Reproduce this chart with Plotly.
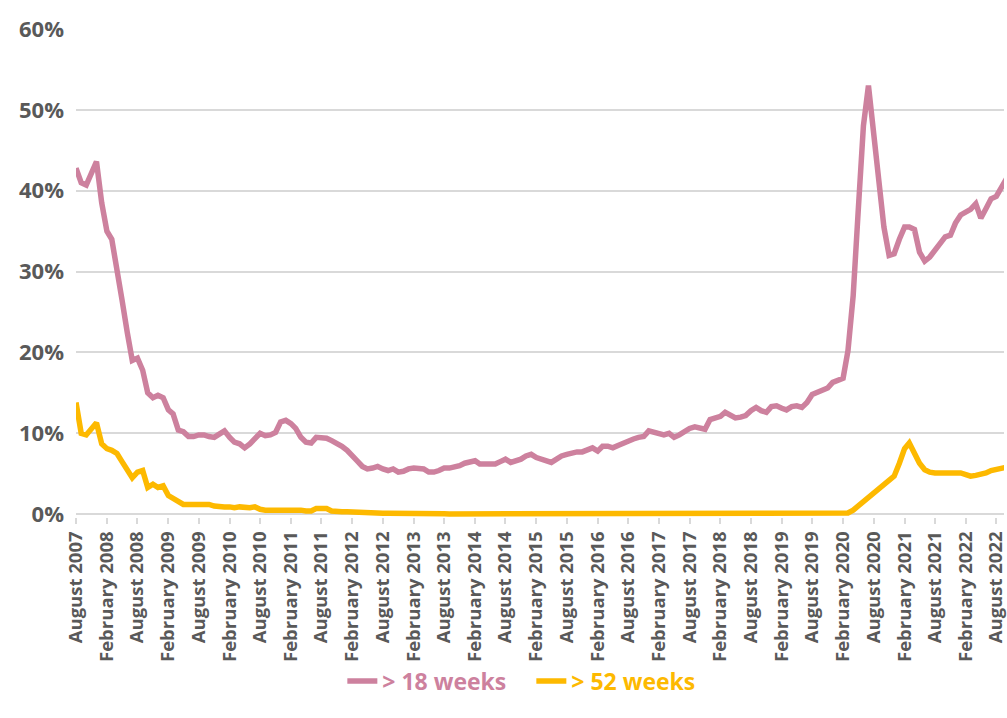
import pandas as pd
import plotly.graph_objects as go

# Share of patients on the waiting list, monthly from August 2007
over_18_weeks = [
    42.8, 41.0, 40.7, 42.0, 43.6, 38.5, 35.0, 34.0, 30.5, 26.5,
    22.5, 19.0, 19.3, 17.8, 15.0, 14.4, 14.7, 14.4, 12.9, 12.4,
    10.4, 10.2, 9.6, 9.6, 9.8, 9.8, 9.6, 9.5, 9.9, 10.3,
    9.5, 8.9, 8.7, 8.2, 8.7, 9.3, 10.0, 9.7, 9.8, 10.1,
    11.4, 11.6, 11.2, 10.6, 9.5, 8.9, 8.8, 9.5, 9.4, 9.4,
    9.1, 8.8, 8.4, 7.9, 7.3, 6.6, 5.9, 5.6, 5.7, 5.9,
    5.6, 5.4, 5.6, 5.2, 5.3, 5.6, 5.7, 5.7, 5.6, 5.2,
    5.2, 5.4, 5.7, 5.7, 5.8, 6.0, 6.3, 6.5, 6.6, 6.2,
    6.2, 6.2, 6.2, 6.5, 6.8, 6.4, 6.6, 6.8, 7.2, 7.4,
    7.0, 6.8, 6.6, 6.4, 6.8, 7.2, 7.4, 7.6, 7.7, 7.7,
    8.0, 8.2, 7.8, 8.4, 8.4, 8.2, 8.5, 8.8, 9.0, 9.3,
    9.5, 9.6, 10.3, 10.1, 10.0, 9.8, 10.0, 9.5, 9.8, 10.2,
    10.6, 10.8, 10.6, 10.5, 11.7, 11.9, 12.1, 12.6, 12.3, 11.9,
    12.0, 12.2, 12.8, 13.2, 12.8, 12.6, 13.3, 13.4, 13.1, 12.9,
    13.3, 13.4, 13.2, 13.8, 14.8, 15.1, 15.3, 15.6, 16.3, 16.5,
    16.8, 20.2, 27.0, 37.5, 48.0, 53.0, 47.5, 41.0, 35.5, 32.0,
    32.2, 34.0, 35.5, 35.5, 35.2, 32.4, 31.3, 31.8, 32.6, 33.6,
    34.3, 34.5, 36.0, 37.0, 37.4, 37.7, 38.4, 36.6, 37.8, 39.0,
    39.3, 40.6, 41.5,
]

over_52_weeks = [
    13.8, 10.0, 9.8, 10.5, 11.3, 8.7, 8.1, 7.9, 7.5, 6.5,
    5.4, 4.5, 5.2, 5.4, 3.3, 3.7, 3.3, 3.5, 2.3, 2.0,
    1.5, 1.2, 1.2, 1.2, 1.2, 1.2, 1.2, 1.0, 0.9, 0.9,
    0.9, 0.8, 0.9, 0.8, 0.8, 0.9, 0.6, 0.5, 0.5, 0.6,
    0.6, 0.6, 0.6, 0.5, 0.5, 0.4, 0.4, 0.7, 0.7, 0.7,
    0.4, 0.3, 0.3, 0.3, 0.25, 0.2, 0.2, 0.15, 0.15, 0.12,
    0.1, 0.1, 0.08, 0.07, 0.06, 0.05, 0.05, 0.05, 0.04, 0.04,
    0.04, 0.04, 0.04, 0.03, 0.03, 0.03, 0.03, 0.03, 0.03, 0.03,
    0.03, 0.03, 0.03, 0.03, 0.03, 0.03, 0.03, 0.03, 0.04, 0.04,
    0.04, 0.04, 0.04, 0.04, 0.04, 0.04, 0.04, 0.04, 0.04, 0.04,
    0.04, 0.04, 0.04, 0.04, 0.04, 0.04, 0.04, 0.05, 0.05, 0.05,
    0.05, 0.05, 0.05, 0.05, 0.06, 0.06, 0.07, 0.08, 0.08, 0.09,
    0.1, 0.1, 0.1, 0.1, 0.1, 0.1, 0.1, 0.1, 0.1, 0.1,
    0.1, 0.1, 0.09, 0.08, 0.08, 0.07, 0.06, 0.06, 0.05, 0.05,
    0.05, 0.05, 0.05, 0.05, 0.05, 0.05, 0.05, 0.05, 0.05, 0.05,
    0.06, 0.15, 0.5, 1.0, 1.5, 2.2, 2.7, 3.2, 3.7, 4.1,
    4.7, 6.3, 8.1, 8.8, 7.5, 6.3, 5.5, 5.2, 5.1, 5.1,
    5.2, 5.1, 5.1, 5.1, 4.9, 4.7, 4.8, 4.9, 5.1, 5.4,
    5.5, 5.6, 5.8,
]

months = pd.date_range("2007-08-01", periods=len(over_18_weeks), freq="MS")

# Axis labels every six months (August / February)
tick_dates = pd.date_range("2007-08-01", "2022-08-01", freq="6MS")
tick_labels = [d.strftime("%B %Y") for d in tick_dates]

PINK = "#cd819e"
GOLD = "#fdb900"
GREY_TEXT = "#595959"
GRID = "#d9d9d9"
FONT = "Open Sans"

fig = go.Figure()
fig.add_trace(go.Scatter(
    x=months, y=over_18_weeks, mode="lines",
    name=f"<span style='color:{PINK}'>&gt; 18 weeks</span>",
    line=dict(color=PINK, width=5.5),
))
fig.add_trace(go.Scatter(
    x=months, y=over_52_weeks, mode="lines",
    name=f"<span style='color:{GOLD}'>&gt; 52 weeks</span>",
    line=dict(color=GOLD, width=5.5),
))

fig.update_layout(
    width=1007, height=718,
    margin=dict(l=76, r=0, t=29, b=201),
    paper_bgcolor="white", plot_bgcolor="white",
    font=dict(family=FONT, color=GREY_TEXT, weight=700),
    showlegend=True,
    legend=dict(
        orientation="h", x=0.287, xanchor="left",
        y=-0.336, yanchor="middle",
        bgcolor="rgba(0,0,0,0)",
        font=dict(size=23, family=FONT, weight=700),
        itemwidth=30, traceorder="normal",
        entrywidth=144, entrywidthmode="pixels",
    ),
)

fig.update_xaxes(
    range=[months[0], pd.Timestamp("2022-09-16")],
    tickvals=tick_dates, ticktext=tick_labels, tickangle=-90,
    tickfont=dict(size=18.5, family=FONT, color=GREY_TEXT, weight=700),
    ticks="outside", ticklen=6, tickwidth=1.5, tickcolor=GRID,
    ticklabeloverflow="allow",
    showgrid=False, showline=False, zeroline=False,
)
fig.update_yaxes(
    range=[-0.35, 60], tickvals=[0, 10, 20, 30, 40, 50, 60],
    ticktext=["0%", "10%", "20%", "30%", "40%", "50%", "60%"],
    tickfont=dict(size=22, family=FONT, color=GREY_TEXT, weight=700),
    showgrid=True, gridcolor=GRID, gridwidth=1.5,
    zeroline=True, zerolinecolor=GRID, zerolinewidth=2,
    showline=False, ticks="", ticklabelstandoff=11,
)

fig.write_html("out.html")
